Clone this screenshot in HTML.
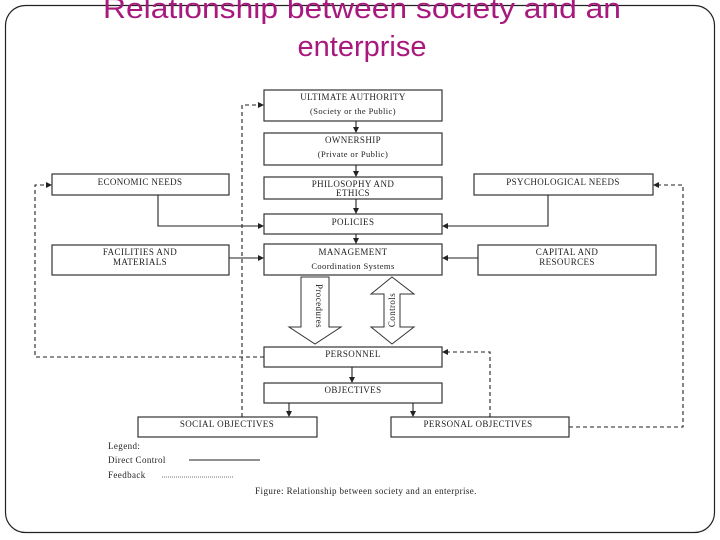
<!DOCTYPE html>
<html><head><meta charset="utf-8"><style>
html,body{margin:0;padding:0;background:#fff;}
svg{display:block;}
.t{font-family:"Liberation Serif",serif;font-size:9px;fill:#222;letter-spacing:0.4px;}
.tt{font-family:"Liberation Sans",sans-serif;font-size:29px;fill:#a8197e;}
</style></head><body>
<svg width="720" height="540" viewBox="0 0 720 540" xmlns="http://www.w3.org/2000/svg">
<defs>
<marker id="a" markerWidth="6" markerHeight="6" refX="5" refY="3" orient="auto" markerUnits="userSpaceOnUse"><path d="M0,0 L6,3 L0,6 z" fill="#222"/></marker>
</defs>
<rect x="5.5" y="5.5" width="709" height="527" rx="20" fill="none" stroke="#222" stroke-width="1.2"/>
<text class="tt" x="362" y="18" text-anchor="middle" textLength="518" lengthAdjust="spacingAndGlyphs">Relationship between society and an</text>
<text class="tt" x="362" y="56" text-anchor="middle">enterprise</text>
<g fill="#fff" stroke="#333" stroke-width="1.2">
<rect x="264" y="90" width="178" height="31"/>
<rect x="264" y="133" width="178" height="32"/>
<rect x="264" y="177" width="178" height="22"/>
<rect x="52" y="174" width="177" height="21"/>
<rect x="474" y="174" width="179" height="21"/>
<rect x="264" y="214" width="178" height="20"/>
<rect x="52" y="245" width="177" height="30"/>
<rect x="264" y="244" width="178" height="31"/>
<rect x="478" y="245" width="178" height="30"/>
<rect x="264" y="347" width="178" height="20"/>
<rect x="264" y="383" width="178" height="20"/>
<rect x="138" y="417" width="179" height="20"/>
<rect x="391" y="417" width="178" height="20"/>
</g>
<g class="t" text-anchor="middle">
<text x="353" y="100">ULTIMATE AUTHORITY</text>
<text x="353" y="114" font-size="8.5">(Society or the Public)</text>
<text x="353" y="143">OWNERSHIP</text>
<text x="353" y="157" font-size="8.5">(Private or Public)</text>
<text x="353" y="187">PHILOSOPHY AND</text>
<text x="353" y="196">ETHICS</text>
<text x="140" y="185">ECONOMIC NEEDS</text>
<text x="563" y="185">PSYCHOLOGICAL NEEDS</text>
<text x="353" y="225">POLICIES</text>
<text x="140" y="255">FACILITIES AND</text>
<text x="140" y="265">MATERIALS</text>
<text x="353" y="255">MANAGEMENT</text>
<text x="353" y="269" font-size="8.5">Coordination Systems</text>
<text x="567" y="255">CAPITAL AND</text>
<text x="567" y="265">RESOURCES</text>
<text x="353" y="357">PERSONNEL</text>
<text x="353" y="393">OBJECTIVES</text>
<text x="227" y="427">SOCIAL OBJECTIVES</text>
<text x="478" y="427">PERSONAL OBJECTIVES</text>
</g>
<g stroke="#222" stroke-width="1.1" fill="none">
<line x1="356" y1="121" x2="356" y2="132" marker-end="url(#a)"/>
<line x1="356" y1="165" x2="356" y2="176" marker-end="url(#a)"/>
<line x1="356" y1="199" x2="356" y2="213" marker-end="url(#a)"/>
<line x1="356" y1="234" x2="356" y2="243" marker-end="url(#a)"/>
<polyline points="158,195 158,226 263,226" marker-end="url(#a)"/>
<polyline points="548,195 548,226 443,226" marker-end="url(#a)"/>
<line x1="229" y1="258" x2="263" y2="258" marker-end="url(#a)"/>
<line x1="478" y1="258" x2="443" y2="258" marker-end="url(#a)"/>
<line x1="352" y1="367" x2="352" y2="382" marker-end="url(#a)"/>
<line x1="289" y1="403" x2="289" y2="416" marker-end="url(#a)"/>
<line x1="413" y1="403" x2="413" y2="416" marker-end="url(#a)"/>
</g>
<g stroke="#222" stroke-width="1.1" fill="none" stroke-dasharray="4,3">
<polyline points="264,357 35,357 35,185 51,185" marker-end="url(#a)"/>
<polyline points="242,417 242,105 263,105" marker-end="url(#a)"/>
<polyline points="569,427 683,427 683,185 654,185" marker-end="url(#a)"/>
<polyline points="490,417 490,352 443,352" marker-end="url(#a)"/>
</g>
<g fill="#fff" stroke="#333" stroke-width="1">
<polygon points="301,277 329,277 329,327 341,327 315,344 289,327 301,327"/>
<polygon points="392,277 414,294 400,294 400,327 414,327 392,344 371,327 384,327 384,294 371,294"/>
</g>
<text class="t" transform="translate(316,306) rotate(90)" text-anchor="middle" font-size="8.5">Procedures</text>
<text class="t" transform="translate(395,310) rotate(-90)" text-anchor="middle" font-size="8.5">Controls</text>
<g class="t" font-size="8.5">
<text x="108" y="449">Legend:</text>
<text x="108" y="463">Direct Control</text>
<text x="108" y="478">Feedback</text>
</g>
<line x1="189" y1="460" x2="260" y2="460" stroke="#222" stroke-width="1"/>
<line x1="162" y1="477" x2="234" y2="477" stroke="#444" stroke-width="0.8" stroke-dasharray="1,1"/>
<text class="t" x="366" y="494" text-anchor="middle" font-size="11.5">Figure: Relationship between society and an enterprise.</text>
</svg>
</body></html>
